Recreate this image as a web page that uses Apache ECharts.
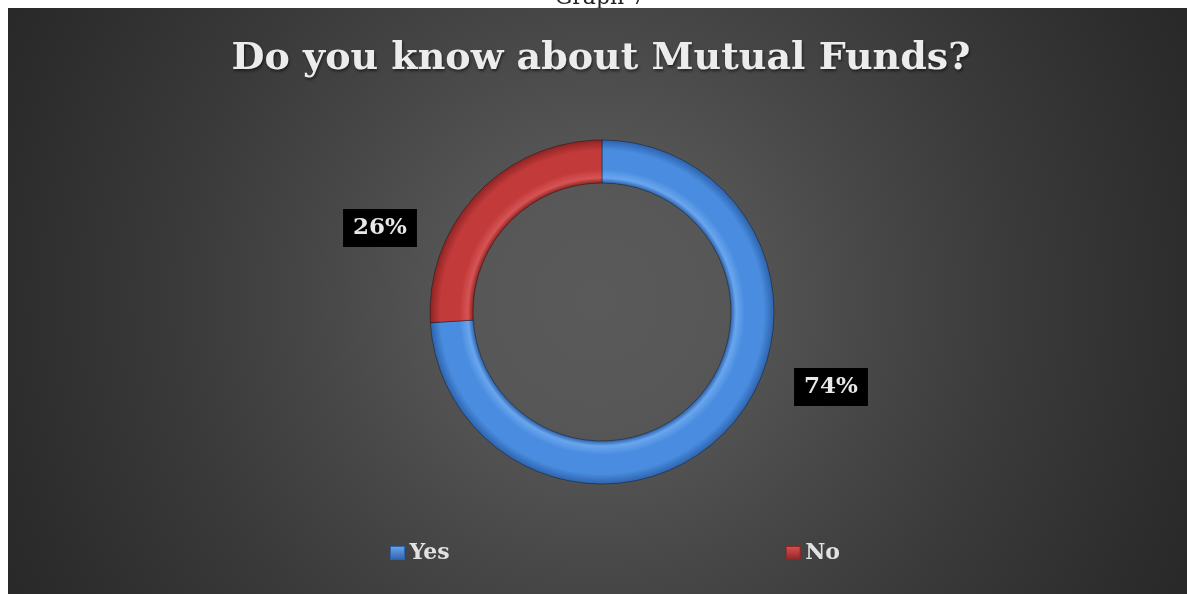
<!DOCTYPE html>
<html>
<head>
<meta charset="utf-8">
<style>
  html, body { margin: 0; padding: 0; background: #ffffff; }
  #chart { width: 1187px; height: 594px; }
</style>
<script src="https://cdn.jsdelivr.net/npm/echarts@6/dist/echarts.min.js"></script>
</head>
<body>
<div id="chart"></div>
<script>
// Survey answers and their shares (%)
const categories = ['Yes', 'No'];
const shares = [74, 26];

const colors = {
  Yes: { base: '#4a8de0', light: '#6aa6ee', dark: '#2d63ad' },
  No:  { base: '#c23a3a', light: '#d65454', dark: '#8f2424' }
};
// Where each percentage box sits
const labelSpots = { Yes: [831, 387], No: [380, 228] };

const cx = 602, cy = 312, rOut = 172, rIn = 129;

function ringFill(c) {
  // bevelled look across the ring width
  const a = rIn / rOut;
  return {
    type: 'radial', x: cx, y: cy, r: rOut, global: true,
    colorStops: [
      { offset: 0, color: c.dark },
      { offset: a, color: c.dark },
      { offset: a + 0.03, color: c.light },
      { offset: a + 0.08, color: c.base },
      { offset: 0.94, color: c.base },
      { offset: 1, color: c.dark }
    ]
  };
}

const chart = echarts.init(document.getElementById('chart'), null, { renderer: 'canvas' });

chart.setOption({
  backgroundColor: '#ffffff',
  animation: false,
  graphic: [
    {
      type: 'text', z: 0, silent: true,
      style: {
        x: 600, y: 9, text: 'Graph 7', font: '22px "DejaVu Serif"', fill: '#222',
        align: 'center', verticalAlign: 'bottom'
      }
    },
    {
      type: 'rect', z: 1, silent: true,
      shape: { x: 8, y: 8, width: 1179, height: 586 },
      style: {
        fill: {
          type: 'radial', x: 597, y: 300, r: 700, global: true,
          colorStops: [
            { offset: 0, color: '#5a5a5a' },
            { offset: 0.18, color: '#575757' },
            { offset: 0.4, color: '#474747' },
            { offset: 0.6, color: '#3a3a3a' },
            { offset: 0.86, color: '#2c2c2c' },
            { offset: 1, color: '#262626' }
          ]
        }
      }
    },
    {
      type: 'text', z: 2, silent: true,
      style: {
        x: 601, y: 40,
        align: 'center', verticalAlign: 'top',
        text: 'Do you know about Mutual Funds?',
        font: 'bold 38px "DejaVu Serif"',
        fill: '#ececec',
        textShadowColor: 'rgba(0,0,0,0.55)', textShadowBlur: 3, textShadowOffsetX: 1, textShadowOffsetY: 2
      }
    }
  ],
  legend: {
    bottom: 25,
    left: 385,
    itemGap: 336,
    itemWidth: 14,
    itemHeight: 13,
    icon: 'rect',
    z: 3,
    textStyle: { color: '#e2e2e2', fontFamily: 'DejaVu Serif', fontWeight: 'bold', fontSize: 22 },
    data: categories.map(name => ({
      name,
      itemStyle: {
        color: {
          type: 'linear', x: 0, y: 0, x2: 0, y2: 1,
          colorStops: [{ offset: 0, color: colors[name].light }, { offset: 1, color: colors[name].dark }]
        },
        borderColor: colors[name].dark, borderWidth: 1
      }
    }))
  },
  series: [{
    type: 'pie',
    z: 3,
    center: [cx, cy],
    radius: [rIn, rOut],
    startAngle: 90,
    clockwise: true,
    avoidLabelOverlap: false,
    itemStyle: { borderColor: 'rgba(0,0,0,0.35)', borderWidth: 1 },
    label: {
      show: true,
      formatter: p => p.value + '%',
      color: '#e8e8e8',
      fontFamily: 'DejaVu Serif',
      fontWeight: 'bold',
      fontSize: 23,
      backgroundColor: '#000000',
      padding: [8, 10, 7, 10]
    },
    labelLine: { show: false },
    labelLayout: p => {
      const s = labelSpots[categories[p.dataIndex]];
      return { x: s[0], y: s[1], align: 'center', verticalAlign: 'middle' };
    },
    data: categories.map((name, i) => ({
      name, value: shares[i],
      itemStyle: { color: ringFill(colors[name]) }
    }))
  }]
});
</script>
</body>
</html>
